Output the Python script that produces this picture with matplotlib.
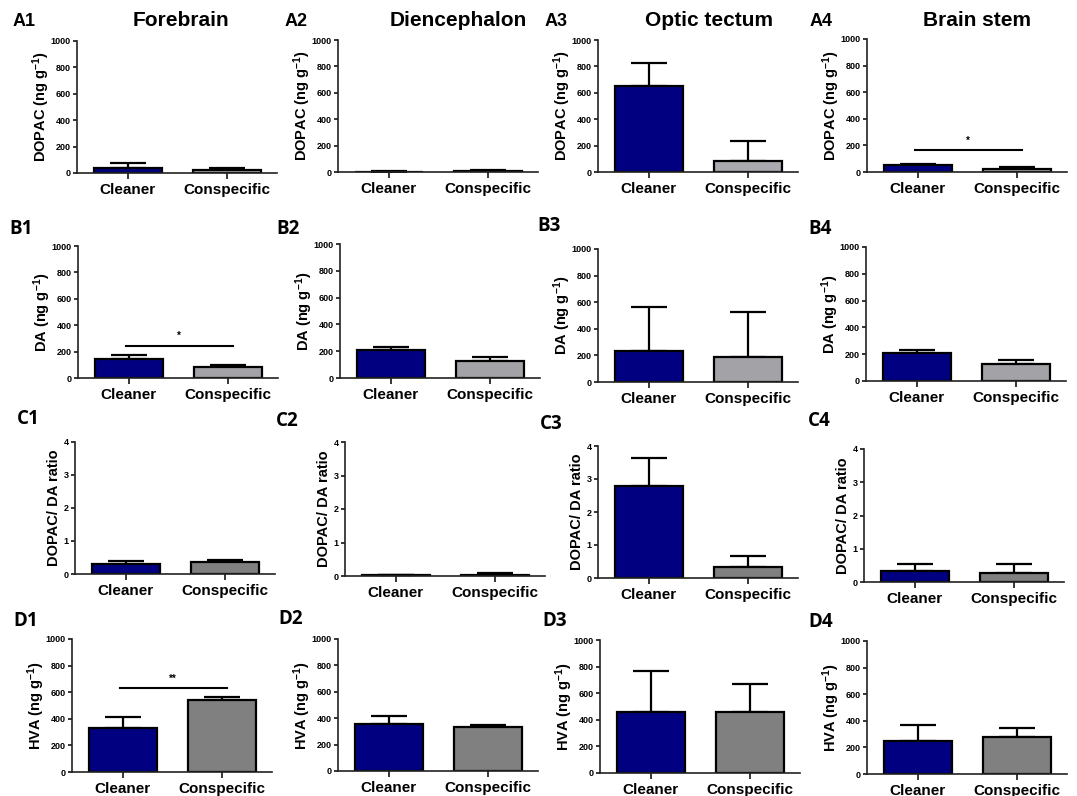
import matplotlib
matplotlib.use("Agg")
import matplotlib.pyplot as plt

plt.rcParams['font.family'] = ['Liberation Sans', 'DejaVu Sans']
plt.rcParams['font.weight'] = 'bold'
plt.rcParams['mathtext.fontset'] = 'custom'
plt.rcParams['mathtext.rm'] = 'Liberation Sans:bold'
plt.rcParams['mathtext.it'] = 'Liberation Sans:bold'
plt.rcParams['mathtext.bf'] = 'Liberation Sans:bold'
plt.rcParams['mathtext.default'] = 'rm'

# ---------------- data ----------------
regions = ['Forebrain', 'Diencephalon', 'Optic tectum', 'Brain stem']
groups = ['Cleaner', 'Conspecific']
row_letters = ['A', 'B', 'C', 'D']
row_ylabels = ['DOPAC (ng g$^{-1}$)', 'DA (ng g$^{-1}$)', 'DOPAC/ DA ratio', 'HVA (ng g$^{-1}$)']
row_ymax = [1000, 1000, 4, 1000]
row_ystep = [200, 200, 1, 200]

dopac_mean = [[38, 22], [2, 6], [650, 80], [52, 25]]
dopac_err = [[34, 13], [3, 10], [178, 158], [9, 12]]
da_mean = [[145, 82], [210, 128], [230, 185], [208, 130]]
da_err = [[30, 15], [18, 28], [335, 340], [20, 30]]
ratio_mean = [[0.30, 0.37], [0.02, 0.03], [2.80, 0.33], [0.34, 0.28]]
ratio_err = [[0.08, 0.05], [0.02, 0.05], [0.83, 0.34], [0.20, 0.26]]
hva_mean = [[330, 540], [355, 330], [455, 460], [248, 280]]
hva_err = [[80, 26], [63, 20], [315, 212], [120, 65]]

means = [dopac_mean, da_mean, ratio_mean, hva_mean]
errs = [dopac_err, da_err, ratio_err, hva_err]

# significance: (row, col) -> (bar height, label)
sig_rows = [0, 1, 3]
sig_cols = [3, 0, 0]
sig_levels = [165, 245, 630]
sig_labels = ['*', '*', '**']

# ---------------- layout (pixels) ----------------
W, H = 1077, 796
# y-axis x position, top (max) y, bottom (zero) y
ax_left = [[77, 338, 598, 867],
           [78, 340, 598, 866],
           [75, 345, 598, 864],
           [72, 338, 600, 867]]
ax_top = [[41, 40, 40, 39],
          [246, 244, 249, 247],
          [442, 442, 446, 449],
          [639, 639, 640, 641]]
ax_bot = [[173, 172, 172, 172],
          [378, 378, 382, 381],
          [574, 576, 578, 582],
          [772, 771, 773, 774]]
ax_w = 200
row_labelpad = [-1, -1, 2, -1]

label_pos = [[(13, 21), (285, 21), (545, 21), (810, 21)],
             [(9, 229), (276, 229), (537, 226), (808, 229)],
             [(17, 419), (276, 421), (540, 424), (808, 421)],
             [(13, 621), (278, 619), (542, 621), (808, 622)]]
title_pos = [(181, 20), (458, 20), (709, 20), (977, 20)]

navy = '#000080'
row_gray = ['#a9a9af', '#a2a2a7', '#808080', '#808080']

fig = plt.figure(figsize=(W / 100, H / 100), dpi=100)

for r in range(4):
    for c in range(4):
        l, t, b = ax_left[r][c], ax_top[r][c], ax_bot[r][c]
        ax = fig.add_axes([l / W, 1 - b / H, ax_w / W, (b - t) / H])
        m = means[r][c]
        e = errs[r][c]
        xs = [0, 1]
        ax.errorbar(xs, m, yerr=[[0, 0], e], fmt='none', ecolor='black',
                    elinewidth=1.6, capsize=13, capthick=1.6, zorder=1)
        ax.bar(xs, m, width=0.68, color=[navy, row_gray[r]],
               edgecolor='black', linewidth=1.6, zorder=2)
        ax.set_xlim(-0.51, 1.50)
        ax.set_ylim(0, row_ymax[r])
        ticks = [i * row_ystep[r] for i in range(int(row_ymax[r] / row_ystep[r]) + 1)]
        ax.set_yticks(ticks)
        ax.set_yticklabels([str(v) for v in ticks], fontsize=6.5, fontweight='bold')
        ax.set_xticks(xs)
        ax.set_xticklabels(groups, fontsize=11, fontweight='bold')
        ax.tick_params(axis='y', length=3, width=1.1, pad=1.5)
        ax.tick_params(axis='x', length=4, width=1.1, pad=3)
        for s in ['top', 'right']:
            ax.spines[s].set_visible(False)
        for s in ['left', 'bottom']:
            ax.spines[s].set_linewidth(1.2)
            ax.spines[s].set_color('#222222')
        ax.set_ylabel(row_ylabels[r], fontsize=10.5, fontweight='bold',
                      labelpad=row_labelpad[r])
        for k in range(len(sig_rows)):
            if sig_rows[k] == r and sig_cols[k] == c:
                ax.plot([-0.03, 1.05], [sig_levels[k], sig_levels[k]], color='black',
                        lw=1.5, clip_on=False)
                ax.text(0.5, sig_levels[k] + 35, sig_labels[k], ha='center',
                        va='bottom', fontsize=7, fontweight='bold')
        lx, ly = label_pos[r][c]
        name = f'{row_letters[r]}{c + 1}'
        if r == 0:
            fig.text(lx / W, 1 - ly / H, name, fontsize=13, fontweight='bold',
                     va='center', ha='left', family=['Liberation Sans'])
        else:
            fig.text(lx / W, 1 - ly / H, name, fontsize=13.5, fontweight='bold',
                     va='center', ha='left', family=['Open Sans'])

for c in range(4):
    x, y = title_pos[c]
    fig.text(x / W, 1 - y / H, regions[c], fontsize=15, fontweight='bold',
             ha='center', va='center')

fig.savefig('out.png', dpi=100, facecolor='white')
